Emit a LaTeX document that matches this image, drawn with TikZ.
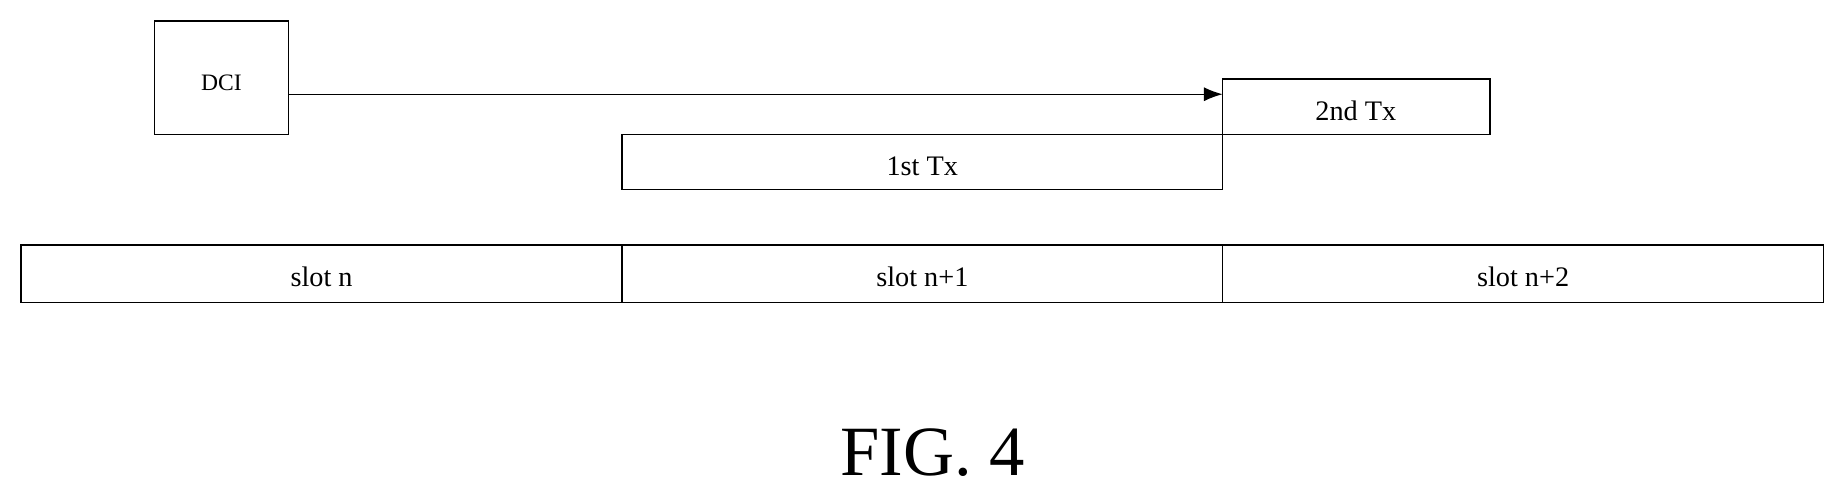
\documentclass[tikz,border=0pt]{standalone}
\usepackage{fontspec}
\setmainfont{Liberation Serif}
\usetikzlibrary{arrows.meta}
\begin{document}
\begin{tikzpicture}[x=0.5pt,y=-0.5pt,
  box/.style={draw,line width=0.6pt,inner sep=0pt,anchor=north west,font=\fontsize{12}{14}\selectfont},
  lbl/.style={font=\fontsize{12}{14}\selectfont}]
\useasboundingbox (0,0) rectangle (1568,421);
\draw[line width=0.6pt] (131,18) rectangle (245,114);
\node[lbl,font=\fontsize{10}{12}\selectfont] (dci) at (188,70) {DCI};
\coordinate (dcir) at (245,80);
\draw[line width=0.6pt] (1038,67) rectangle (1265,114);
\node[lbl] (tx2) at (1151,94) {2nd Tx};
\coordinate (tx2l) at (1038,80);
\draw[line width=0.6pt] (528,114) rectangle (1038,161);
\node[lbl] (tx1) at (783,141) {1st Tx};
\draw[line width=0.6pt,-{Latex[length=8pt,width=6pt]}] (dcir) -- (tx2l);
\draw[line width=0.6pt] (18,208) rectangle (1548,257);
\draw[line width=0.6pt] (528,208) -- (528,257) (1038,208) -- (1038,257);
\node[lbl] (s0) at (273,235) {slot n};
\node[lbl] (s1) at (783,235) {slot n+1};
\node[lbl] (s2) at (1293,235) {slot n+2};
\node[font=\fontsize{30}{34}\selectfont] (fig) at (792,384) {FIG. 4};
\end{tikzpicture}
\end{document}
